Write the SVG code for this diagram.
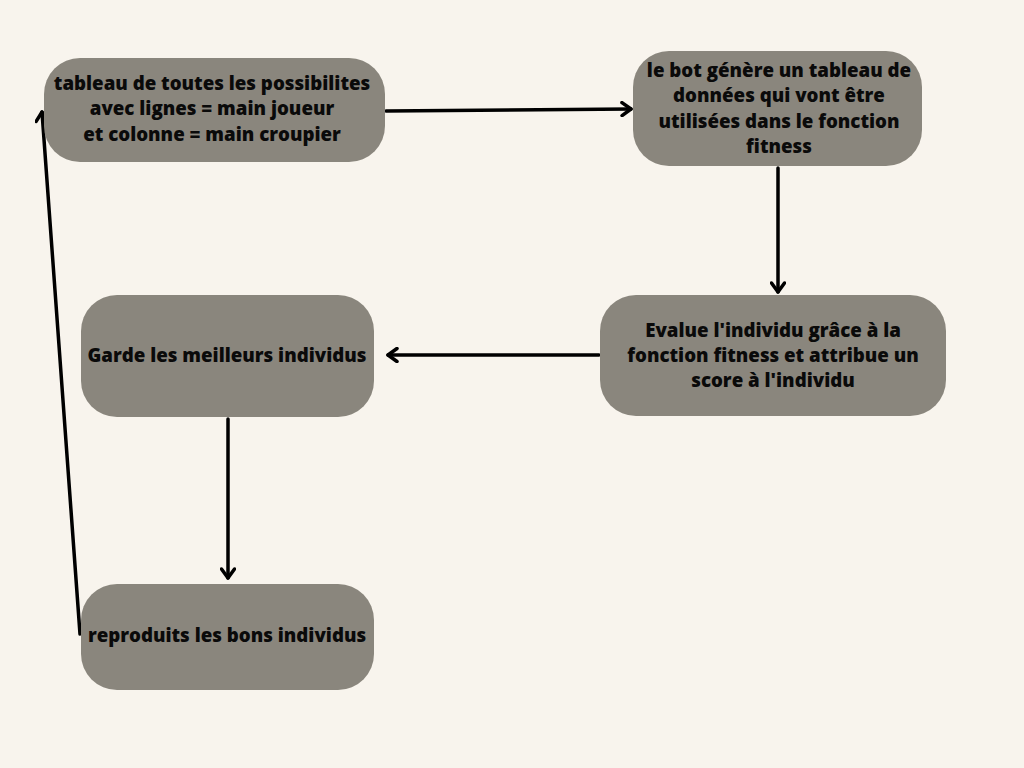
<svg xmlns="http://www.w3.org/2000/svg" width="1024" height="768" viewBox="0 0 1024 768">
<style>
.box{fill:#8a867d}
.t{font-family:"Open Sans","Noto Sans","DejaVu Sans",sans-serif;font-weight:800;font-size:18.7px;fill:#0a0a0a;text-anchor:middle}
.c{stroke:#000;stroke-width:3.5;fill:none;stroke-linecap:round}
</style>
<defs>
<marker id="ah" viewBox="0 0 16 16" refX="13" refY="8" markerWidth="16" markerHeight="16" markerUnits="userSpaceOnUse" orient="auto">
<polyline points="4,1.5 13,8 4,14.5" fill="none" stroke="#000" stroke-width="3.5" stroke-linecap="round" stroke-linejoin="round"/>
</marker>
</defs>
<rect width="1024" height="768" fill="#f8f4ed"/>
<g id="connectors">
<line class="c" x1="386" y1="111" x2="631" y2="109" marker-end="url(#ah)"/>
<line class="c" x1="778" y1="168" x2="778" y2="292" marker-end="url(#ah)"/>
<line class="c" x1="599" y1="355" x2="388" y2="355" marker-end="url(#ah)"/>
<line class="c" x1="228" y1="419" x2="228" y2="578" marker-end="url(#ah)"/>
<line class="c" x1="80" y1="634" x2="42" y2="112" marker-end="url(#ah)"/>
</g>
<g id="n1">
<rect class="box" x="44" y="58" width="341" height="104" rx="36"/>
<text class="t" x="212" y="90">tableau de toutes les possibilites</text>
<text class="t" x="212" y="115">avec lignes = main joueur</text>
<text class="t" x="212" y="141">et colonne = main croupier</text>
</g>
<g id="n2">
<rect class="box" x="633" y="51" width="289" height="115" rx="36"/>
<text class="t" x="779" y="77">le bot génère un tableau de</text>
<text class="t" x="779" y="102">données qui vont être</text>
<text class="t" x="779" y="128">utilisées dans le fonction</text>
<text class="t" x="779" y="153">fitness</text>
</g>
<g id="n3">
<rect class="box" x="600" y="295" width="346" height="121" rx="36"/>
<text class="t" x="773" y="337">Evalue l'individu grâce à la</text>
<text class="t" x="773" y="362">fonction fitness et attribue un</text>
<text class="t" x="773" y="387">score à l'individu</text>
</g>
<g id="n4">
<rect class="box" x="81" y="295" width="293" height="122" rx="36"/>
<text class="t" x="227" y="362">Garde les meilleurs individus</text>
</g>
<g id="n5">
<rect class="box" x="81" y="584" width="293" height="106" rx="36"/>
<text class="t" x="227" y="642">reproduits les bons individus</text>
</g>
</svg>
